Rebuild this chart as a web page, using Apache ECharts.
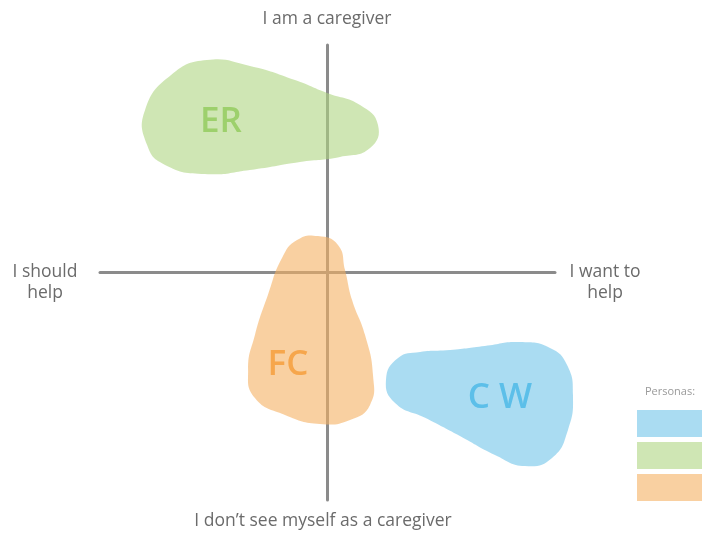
<!DOCTYPE html>
<html>
<head>
<meta charset="utf-8">
<script src="https://cdn.jsdelivr.net/npm/echarts@6/dist/echarts.min.js"></script>
<style>
  html, body { margin: 0; padding: 0; background: #fff; }
  #chart { width: 715px; height: 533px; }
</style>
</head>
<body>
<div id="chart"></div>
<script>
// personas, in legend order
var personas = ["CW", "ER", "FC"];
var personaLabels = ["C W", "ER", "FC"];

// blob outlines, in axis units (-100..100 on both axes)
var cwOutline = [
  [25.7, -47.3], [31.0, -37.6], [40.7, -34.9], [53.9, -34.1], [69.2, -32.3],
  [84.6, -30.6], [97.8, -33.2], [105.3, -40.7], [107.9, -53.9], [105.7, -69.2],
  [98.7, -81.5], [86.8, -85.1], [73.6, -80.2], [58.2, -71.9], [42.9, -63.9],
  [29.7, -57.4]
];
var erOutline = [
  [-80.2, 71.4], [-68.5, 87.0], [-53.0, 93.4], [-34.1, 90.8], [-14.3, 84.6],
  [-0.2, 78.9], [14.3, 73.6], [22.2, 64.8], [18.7, 54.7], [5.5, 50.8],
  [-12.1, 48.6], [-34.1, 45.1], [-53.9, 43.3], [-71.4, 47.3], [-79.3, 56.0]
];
var fcOutline = [
  [-13.4, 14.3], [-4.2, 16.0], [4.6, 12.1], [7.7, 1.1], [10.8, -12.1],
  [16.5, -27.5], [20.0, -45.1], [18.7, -58.2], [9.9, -64.8], [-3.3, -66.6],
  [-18.7, -62.6], [-31.9, -55.2], [-34.9, -42.9], [-31.9, -27.5], [-26.2, -9.9],
  [-20.0, 6.4]
];
var outlines = [cwOutline, erOutline, fcOutline];

// where the persona initials sit
var labelPositions = [[75.8, -55.2], [-46.8, 66.0], [-17.4, -40.7]];

var fills = ["rgba(113, 197, 234, 0.6)", "rgba(175, 213, 130, 0.6)", "rgba(245, 177, 98, 0.6)"];
var textColors = ["#5cbfe9", "#9dd06c", "#f6a64c"];

var chart = echarts.init(document.getElementById("chart"));

var series = personas.map(function (name, i) {
  return {
    name: name,
    type: "custom",
    clip: false,
    itemStyle: { color: fills[i] },
    data: outlines[i],
    renderItem: function (params, api) {
      if (params.dataIndex !== 0) return null;
      var pts = outlines[i].map(function (p) { return api.coord(p); });
      var lp = api.coord(labelPositions[i]);
      return {
        type: "group",
        children: [
          {
            type: "polygon",
            shape: { points: pts, smooth: 0.5 },
            style: { fill: fills[i], stroke: null }
          },
          {
            type: "text",
            x: lp[0],
            y: lp[1],
            style: {
              text: personaLabels[i],
              fill: textColors[i],
              font: "600 35px 'Open Sans'",
              align: "center",
              verticalAlign: "middle",
              textAlign: "center",
              textVerticalAlign: "middle"
            }
          }
        ]
      };
    }
  };
});

var axisStyle = {
  min: -100,
  max: 100,
  type: "value",
  axisLine: { show: true, onZero: true, lineStyle: { color: "#8b8b8b", width: 3 } },
  axisTick: { show: false },
  axisLabel: { show: false },
  splitLine: { show: false }
};

var labelFont = { fill: "#6b6b6b", font: "17.5px 'Open Sans'", textAlign: "center", lineHeight: 21 };

chart.setOption({
  animation: false,
  grid: { left: 100, right: 160, top: 45, bottom: 33 },
  xAxis: axisStyle,
  yAxis: axisStyle,
  legend: {
    data: personas,
    orient: "vertical",
    left: 632,
    top: 405,
    icon: "rect",
    itemWidth: 65,
    itemHeight: 27,
    itemGap: 5,
    selectedMode: false,
    formatter: function () { return ""; }
  },
  graphic: [
    { type: "text", x: 327, y: 9, style: Object.assign({ text: "I am a caregiver" }, labelFont) },
    { type: "text", x: 323, y: 511, style: Object.assign({ text: "I don\u2019t see myself as a caregiver" }, labelFont) },
    { type: "text", x: 45, y: 262, style: Object.assign({ text: "I should\nhelp" }, labelFont) },
    { type: "text", x: 605, y: 262, style: Object.assign({ text: "I want to\nhelp" }, labelFont) },
    { type: "text", x: 670, y: 386, style: { text: "Personas:", fill: "#9a9a9a", font: "11px 'Open Sans'", textAlign: "center" } }
  ],
  series: series
});
</script>
</body>
</html>
